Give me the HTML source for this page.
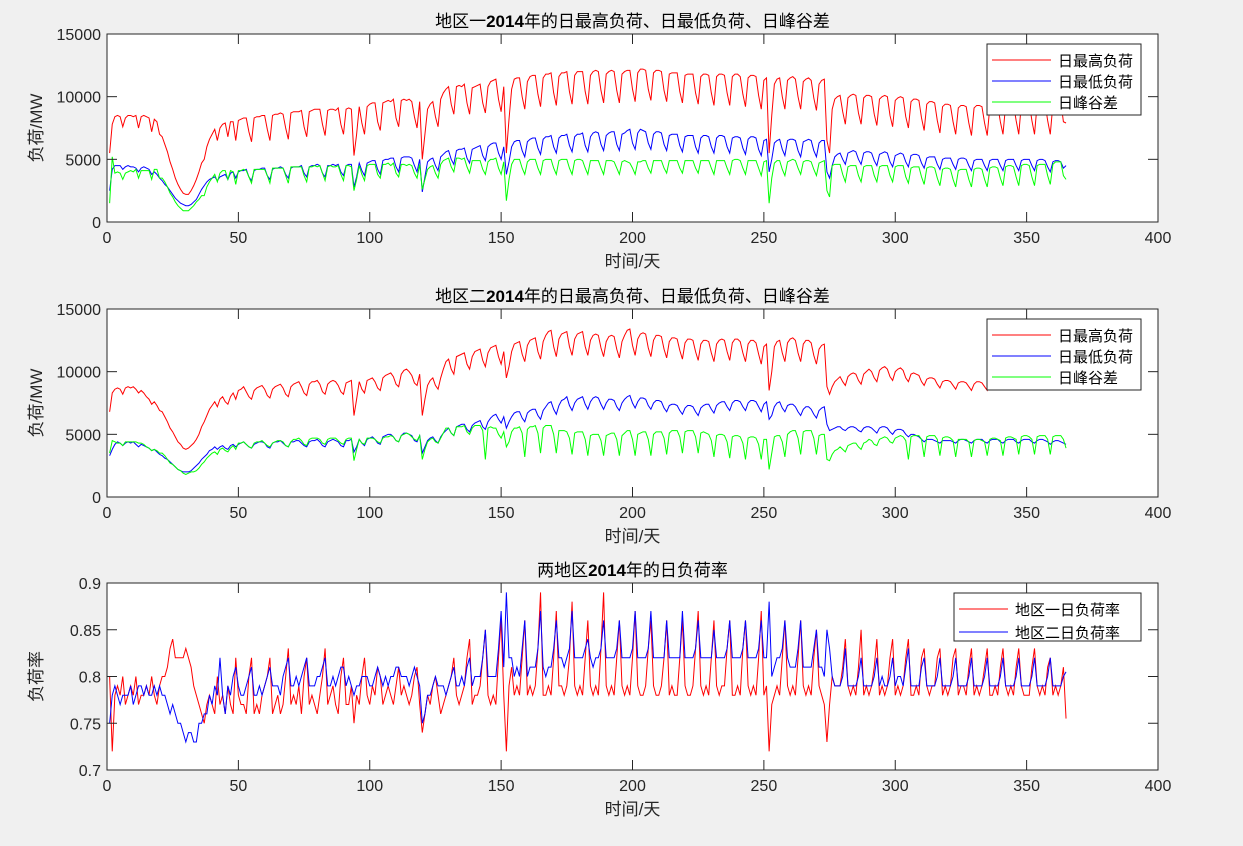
<!DOCTYPE html>
<html><head><meta charset="utf-8"><style>
html,body{margin:0;padding:0;background:#f0f0f0;}
svg{display:block;font-family:"Liberation Sans","Noto Sans CJK SC",sans-serif;}
</style></head><body>
<svg id="fig" width="1243" height="846" viewBox="0 0 1243 846" xmlns="http://www.w3.org/2000/svg"></svg>
<script>
// Values in thousands of MW (load) and in percent (load rate), day 1..365
const days = Array.from({length:365},(_,i)=>i+1);
const r1Max=[5.5,7.8,8.4,8.5,8.4,7.6,8.3, 8.5,8.5,8.4,8.5,7.5,8.4,8.5, 8.4,8.3,7.2,8.2,8.0,7.0,6.8, 6.2,5.6,4.8,4.2,3.5,3.0,2.6, 2.3,2.2,2.2,2.5,2.9,3.4,4.0, 4.7,5.0,6.0,6.6,7.0,7.4,6.5, 7.5,7.8,7.9,6.8,8.0,8.0,6.5, 8.1,8.2,8.3,8.3,7.2,6.4,8.3, 8.4,8.4,8.5,8.5,7.4,6.5,8.5, 8.6,8.6,8.7,8.6,7.5,6.6,8.7, 8.8,8.8,8.8,8.9,7.6,6.8,8.8, 8.9,9.0,9.0,9.0,7.8,6.9,8.9, 9.0,9.0,8.9,9.1,7.8,7.0,9.0, 9.1,9.0,5.3,7.0,9.2,7.9,7.0, 9.2,9.4,9.5,9.5,8.0,7.3,9.5, 9.6,9.7,9.6,9.8,8.3,7.6,9.7, 9.8,9.7,9.8,9.6,8.4,7.5,9.6, 5.0,7.0,9.0,9.4,9.6,8.4,7.6, 9.8,10.3,10.6,10.8,9.4,8.6,10.8, 10.9,10.8,11.0,9.5,8.6,10.7,10.8, 10.9,11.0,9.5,8.7,10.8,11.2,11.3, 11.4,9.8,8.8,10.8,5.5,8.2,10.6, 11.4,11.5,11.5,10.0,9.0,11.2,11.6, 11.7,11.7,10.2,9.2,11.5,11.8,11.8, 11.9,10.3,9.3,11.6,11.9,11.9,12.0, 10.4,9.4,11.7,12.0,12.0,12.0,10.4, 9.4,11.7,12.0,12.1,12.0,10.5,9.5, 11.8,12.0,12.1,12.0,10.5,9.5,11.8, 12.0,12.1,12.1,10.6,9.6,11.9,12.2, 12.2,12.1,10.6,9.7,11.9,12.1,12.1, 12.0,10.5,9.6,11.8,11.9,11.9,11.9, 10.4,9.5,11.7,11.8,11.8,11.8,10.3, 9.4,11.6,11.8,11.8,11.7,10.3,9.3, 11.6,11.8,11.8,11.7,10.3,9.3,11.6, 11.8,11.8,11.6,10.2,9.2,11.5,11.7, 11.7,11.6,10.1,9.0,11.3,11.5,5.5, 8.5,11.0,11.4,11.5,10.0,9.0,11.3, 11.5,11.6,11.4,10.0,9.0,11.2,11.4, 11.5,11.3,9.9,8.9,11.0,11.3,11.4, 6.5,5.5,9.0,9.8,10.0,10.1,8.8, 7.8,9.9,10.1,10.2,10.1,8.7,7.8, 9.9,10.1,10.1,10.0,8.6,7.7,9.8, 10.0,10.1,10.0,8.5,7.6,9.7,9.9, 10.0,9.9,8.4,7.5,9.6,9.8,9.8, 9.7,8.3,7.3,9.4,9.6,9.6,9.5, 8.1,7.1,9.2,9.4,9.4,9.3,8.0, 7.0,9.1,9.3,9.3,9.2,7.9,6.9, 9.1,9.3,9.3,9.2,7.9,6.9,9.2, 9.4,9.4,9.3,8.0,7.0,9.3,9.5, 9.5,9.4,8.1,7.0,9.4,9.6,9.6, 9.5,8.1,7.0,9.4,9.6,9.6,9.5, 8.1,7.0,9.4,9.7,9.7,9.6,8.0, 7.9];
const r1Min=[2.5,4.2,4.5,4.5,4.5,4.2,4.4, 4.5,4.4,4.4,4.3,4.0,4.3,4.4, 4.3,4.2,3.8,4.0,3.8,3.5,3.3, 3.0,2.8,2.5,2.2,1.9,1.7,1.5, 1.4,1.3,1.3,1.4,1.6,1.8,2.2, 2.6,2.9,3.2,3.4,3.5,3.6,3.3, 3.6,3.7,3.8,3.4,3.9,4.0,3.5, 4.0,4.1,4.1,4.2,3.6,3.3,4.1, 4.2,4.2,4.3,4.3,3.7,3.4,4.2, 4.3,4.3,4.4,4.3,3.8,3.5,4.3, 4.4,4.4,4.4,4.5,3.9,3.6,4.4, 4.5,4.5,4.6,4.5,3.9,3.6,4.5, 4.5,4.6,4.5,4.6,4.0,3.7,4.5, 4.6,4.6,2.8,3.6,4.7,4.1,3.7, 4.7,4.8,4.9,4.9,4.2,3.8,4.9, 5.0,5.0,5.1,5.1,4.4,4.0,5.1, 5.2,5.2,5.2,5.1,4.5,4.0,5.0, 2.4,3.6,4.8,5.0,5.1,4.5,4.1, 5.2,5.4,5.6,5.7,5.0,4.6,5.7, 5.8,5.8,5.9,5.1,4.7,5.8,5.9, 6.0,6.1,5.3,4.9,6.0,6.2,6.3, 6.3,5.5,5.0,6.0,3.8,4.8,6.0, 6.4,6.5,6.5,5.7,5.2,6.4,6.6, 6.7,6.7,5.9,5.4,6.6,6.8,6.8, 6.9,6.0,5.5,6.7,6.9,6.9,7.0, 6.1,5.6,6.8,7.0,7.0,7.1,6.1, 5.6,6.8,7.1,7.2,7.1,6.2,5.7, 6.9,7.1,7.2,7.2,6.2,5.7,7.0, 7.1,7.3,7.4,6.3,5.8,7.1,7.4, 7.3,7.2,6.3,5.8,7.0,7.2,7.2, 7.1,6.2,5.7,6.9,7.0,7.0,7.0, 6.1,5.6,6.8,6.9,6.9,6.9,6.0, 5.5,6.7,6.9,6.9,6.8,6.0,5.5, 6.7,6.9,6.9,6.8,6.0,5.5,6.7, 6.8,6.8,6.7,5.9,5.4,6.6,6.8, 6.8,6.7,5.8,5.3,6.5,6.6,4.0, 5.0,6.3,6.5,6.6,5.8,5.3,6.5, 6.6,6.6,6.5,5.7,5.2,6.4,6.5, 6.6,6.5,5.7,5.2,6.3,6.5,6.5, 4.0,3.5,4.5,5.2,5.4,5.5,5.0, 4.6,5.5,5.6,5.7,5.6,5.0,4.6, 5.5,5.6,5.6,5.5,4.9,4.5,5.4, 5.5,5.6,5.5,4.8,4.4,5.3,5.4, 5.5,5.4,4.8,4.4,5.3,5.4,5.4, 5.3,4.7,4.3,5.1,5.2,5.2,5.2, 4.6,4.2,5.0,5.1,5.1,5.1,4.6, 4.2,5.0,5.1,5.1,5.0,4.5,4.1, 4.9,5.0,5.0,5.0,4.5,4.1,4.9, 5.0,5.0,5.0,4.5,4.1,4.9,5.0, 5.0,5.0,4.5,4.1,4.9,5.0,5.0, 5.0,4.5,4.1,4.9,5.0,5.0,4.9, 4.4,4.0,4.8,4.9,4.9,4.8,4.3, 4.5];
const r1Diff=[1.5,5.2,3.9,4.0,3.9,3.4,3.9, 4.0,4.1,4.0,4.2,3.5,4.1,4.1, 4.1,4.1,3.4,4.2,4.2,3.5,3.5, 3.2,2.8,2.3,2.0,1.6,1.3,1.1, 0.9,0.9,0.9,1.1,1.3,1.6,1.8, 2.1,2.1,2.8,3.2,3.5,3.8,3.2, 3.9,4.1,4.1,3.4,4.1,4.0,3.0, 4.1,4.1,4.2,4.1,3.6,3.1,4.2, 4.2,4.2,4.2,4.2,3.7,3.1,4.3, 4.3,4.3,4.3,4.3,3.7,3.1,4.4, 4.4,4.4,4.4,4.4,3.7,3.2,4.4, 4.4,4.5,4.4,4.5,3.9,3.3,4.4, 4.5,4.4,4.4,4.5,3.8,3.3,4.5, 4.5,4.4,2.5,3.4,4.5,3.8,3.3, 4.5,4.6,4.6,4.6,3.8,3.5,4.6, 4.6,4.7,4.5,4.7,3.9,3.6,4.6, 4.6,4.5,4.6,4.5,3.9,3.5,4.6, 2.6,3.4,4.2,4.4,4.5,3.9,3.5, 4.6,4.9,5.0,5.1,4.4,4.0,5.1, 5.1,5.0,5.1,4.4,3.9,4.9,4.9, 4.9,4.9,4.2,3.8,4.8,5.0,5.0, 5.1,4.3,3.8,4.8,1.7,3.4,4.6, 5.0,5.0,5.0,4.3,3.8,4.8,5.0, 5.0,5.0,4.3,3.8,4.9,5.0,5.0, 5.0,4.3,3.8,4.9,5.0,5.0,5.0, 4.3,3.8,4.9,5.0,5.0,4.9,4.3, 3.8,4.9,4.9,4.9,4.9,4.3,3.8, 4.9,4.9,4.9,4.8,4.3,3.8,4.8, 4.9,4.8,4.7,4.3,3.8,4.8,4.8, 4.9,4.9,4.3,3.9,4.9,4.9,4.9, 4.9,4.3,3.9,4.9,4.9,4.9,4.9, 4.3,3.9,4.9,4.9,4.9,4.9,4.3, 3.9,4.9,4.9,4.9,4.9,4.3,3.8, 4.9,4.9,4.9,4.9,4.3,3.8,4.9, 5.0,5.0,4.9,4.3,3.8,4.9,4.9, 4.9,4.9,4.3,3.7,4.8,4.9,1.5, 3.5,4.7,4.9,4.9,4.2,3.7,4.8, 4.9,5.0,4.9,4.3,3.8,4.8,4.9, 4.9,4.8,4.2,3.7,4.7,4.8,4.9, 2.5,2.0,4.5,4.6,4.6,4.6,3.8, 3.2,4.4,4.5,4.5,4.5,3.7,3.2, 4.4,4.5,4.5,4.5,3.7,3.2,4.4, 4.5,4.5,4.5,3.7,3.2,4.4,4.5, 4.5,4.5,3.6,3.1,4.3,4.4,4.4, 4.4,3.6,3.0,4.3,4.4,4.4,4.3, 3.5,2.9,4.2,4.3,4.3,4.2,3.4, 2.8,4.1,4.2,4.2,4.2,3.4,2.8, 4.2,4.3,4.3,4.2,3.4,2.8,4.3, 4.4,4.4,4.3,3.5,2.9,4.4,4.5, 4.5,4.4,3.6,2.9,4.5,4.6,4.6, 4.5,3.6,2.9,4.5,4.6,4.6,4.6, 3.7,3.0,4.6,4.8,4.8,4.8,3.7, 3.4];
const r2Max=[6.8,8.3,8.6,8.7,8.6,8.2,8.7, 8.8,8.7,8.8,8.6,8.3,8.5,8.3, 8.0,7.8,7.4,7.6,7.3,6.9,6.8, 6.4,6.0,5.5,5.2,4.8,4.4,4.2, 3.9,3.8,3.9,4.1,4.3,4.6,5.0, 5.6,6.0,6.5,7.0,7.3,7.6,7.2, 7.8,8.0,7.6,7.4,8.0,8.3,7.8, 8.5,8.6,8.8,8.4,8.0,7.8,8.5, 8.7,8.8,8.9,8.6,8.1,7.9,8.6, 8.8,8.9,9.0,8.7,8.2,8.0,8.8, 9.0,9.1,9.2,8.8,8.3,8.1,9.0, 9.2,9.2,9.3,9.0,8.4,8.2,9.0, 9.2,9.3,9.2,8.9,8.4,8.2,9.1, 9.2,9.3,6.5,7.8,9.2,8.6,8.3, 9.3,9.4,9.5,9.2,8.7,8.5,9.5, 9.7,9.8,9.9,9.6,9.0,8.8,9.8, 10.1,10.2,10.0,9.7,9.1,8.9,9.8, 6.5,7.8,8.9,9.3,9.5,8.9,8.6, 9.5,10.2,10.8,11.0,10.2,9.8,11.2, 11.3,11.4,11.5,10.6,10.2,11.2,11.6, 11.7,11.8,10.9,10.4,11.5,11.9,12.0, 12.1,11.2,10.6,11.6,9.5,10.4,11.6, 12.2,12.3,12.4,11.4,10.8,12.1,12.5, 12.6,12.7,11.6,11.0,12.4,12.9,13.2, 13.3,12.0,11.2,12.6,13.0,13.1,13.2, 12.0,11.3,12.6,13.0,13.1,13.2,12.0, 11.3,12.5,12.9,13.0,12.9,11.9,11.2, 12.4,12.8,12.9,12.8,11.8,11.1,12.4, 12.9,13.3,13.4,12.1,11.3,12.6,13.0, 13.1,13.0,11.9,11.2,12.5,12.9,12.9, 12.8,11.8,11.1,12.4,12.7,12.7,12.6, 11.7,11.0,12.3,12.6,12.6,12.5,11.6, 10.9,12.2,12.5,12.5,12.4,11.5,10.8, 12.2,12.5,12.6,12.5,11.6,10.9,12.3, 12.6,12.6,12.4,11.5,10.8,12.2,12.5, 12.5,12.3,11.4,10.6,12.0,12.2,8.5, 10.0,12.0,12.4,12.5,11.5,10.8,12.3, 12.6,12.7,12.5,11.5,10.8,12.2,12.5, 12.5,12.3,11.3,10.6,11.8,12.1,12.2, 8.8,8.2,8.8,9.2,9.4,9.6,9.2, 8.9,9.6,9.8,9.9,9.8,9.3,9.0, 9.8,10.0,10.2,10.0,9.5,9.2,10.1, 10.3,10.4,10.2,9.6,9.3,10.0,10.2, 10.3,10.1,9.5,9.2,9.8,9.9,9.8, 9.7,9.2,8.9,9.4,9.5,9.5,9.4, 9.0,8.7,9.2,9.3,9.3,9.2,8.9, 8.6,9.1,9.2,9.2,9.1,8.8,8.5, 9.0,9.2,9.2,9.1,8.8,8.5,9.1, 9.3,9.3,9.2,8.9,8.6,9.2,9.4, 9.4,9.3,9.0,8.7,9.3,9.5,9.5, 9.4,9.0,8.7,9.3,9.5,9.5,9.4, 9.0,8.7,9.3,9.5,9.5,9.4,9.0, 8.8];
const r2Min=[3.3,3.8,4.2,4.4,4.3,4.1,4.3, 4.4,4.3,4.4,4.2,4.0,4.2,4.1, 4.0,3.9,3.7,3.8,3.6,3.4,3.3, 3.1,3.0,2.8,2.6,2.4,2.2,2.1, 2.0,2.0,2.0,2.1,2.3,2.5,2.7, 3.0,3.2,3.4,3.7,3.8,4.0,3.8, 4.0,4.1,3.9,3.8,4.1,4.2,4.0, 4.2,4.3,4.4,4.2,4.0,3.9,4.2, 4.3,4.4,4.4,4.3,4.0,3.9,4.3, 4.4,4.4,4.5,4.3,4.1,4.0,4.4, 4.4,4.5,4.5,4.3,4.1,4.0,4.4, 4.5,4.5,4.6,4.4,4.1,4.0,4.4, 4.5,4.6,4.5,4.4,4.1,4.0,4.5, 4.5,4.6,3.6,4.0,4.6,4.3,4.1, 4.6,4.7,4.8,4.6,4.3,4.2,4.8, 4.9,5.0,5.0,4.8,4.5,4.4,4.9, 5.1,5.1,5.0,4.9,4.5,4.4,4.9, 3.5,4.0,4.5,4.7,4.8,4.5,4.3, 4.8,5.1,5.3,5.5,5.1,4.9,5.6, 5.7,5.8,5.8,5.4,5.2,5.7,5.9, 6.0,6.1,5.6,5.4,6.0,6.3,6.5, 6.6,6.2,5.9,6.4,5.5,6.0,6.4, 6.7,6.8,6.8,6.3,6.0,6.7,6.9, 7.0,7.0,6.5,6.2,6.9,7.2,7.5, 7.6,7.0,6.6,7.3,7.7,7.8,8.0, 7.3,6.9,7.5,7.8,7.9,8.0,7.4, 7.0,7.6,7.9,8.0,7.9,7.4,7.0, 7.5,7.8,7.8,7.7,7.2,6.9,7.5, 7.8,8.0,8.1,7.5,7.1,7.6,7.9, 7.9,7.8,7.3,7.0,7.5,7.7,7.7, 7.6,7.1,6.8,7.3,7.4,7.4,7.3, 6.9,6.6,7.1,7.3,7.3,7.2,6.8, 6.5,7.1,7.3,7.4,7.4,7.0,6.7, 7.3,7.5,7.6,7.6,7.2,6.9,7.5, 7.7,7.7,7.6,7.2,6.9,7.5,7.7, 7.7,7.6,7.2,6.8,7.4,7.6,6.2, 6.5,7.2,7.5,7.6,7.1,6.8,7.3, 7.4,7.4,7.2,6.8,6.5,7.0,7.2, 7.2,7.0,6.6,6.3,6.9,7.1,7.2, 5.8,5.3,5.4,5.5,5.6,5.6,5.4, 5.3,5.5,5.6,5.6,5.5,5.3,5.2, 5.5,5.6,5.6,5.5,5.3,5.1,5.5, 5.6,5.6,5.5,5.2,5.0,5.3,5.4, 5.4,5.3,5.0,4.8,5.0,5.0,4.9, 4.8,4.6,4.4,4.6,4.6,4.6,4.5, 4.4,4.3,4.5,4.5,4.5,4.5,4.4, 4.3,4.5,4.6,4.6,4.5,4.4,4.3, 4.5,4.6,4.6,4.6,4.4,4.3,4.5, 4.6,4.6,4.6,4.4,4.3,4.5,4.6, 4.6,4.6,4.4,4.3,4.5,4.6,4.6, 4.6,4.4,4.3,4.5,4.6,4.6,4.5, 4.4,4.2,4.4,4.5,4.5,4.4,4.3, 4.2];
const r2Diff=[3.5,4.5,4.4,4.3,4.3,4.1,4.4, 4.4,4.4,4.4,4.4,4.3,4.3,4.2, 4.0,3.9,3.7,3.8,3.7,3.5,3.5, 3.3,3.0,2.7,2.6,2.4,2.2,2.1, 1.9,1.8,1.9,2.0,2.0,2.1,2.3, 2.6,2.8,3.1,3.3,3.5,3.6,3.4, 3.8,3.9,3.7,3.6,3.9,4.1,3.8, 4.3,4.3,4.4,4.2,4.0,3.9,4.3, 4.4,4.4,4.5,4.3,4.1,4.0,4.3, 4.4,4.5,4.5,4.4,4.1,4.0,4.4, 4.6,4.6,4.7,4.5,4.2,4.1,4.6, 4.7,4.7,4.7,4.6,4.3,4.2,4.6, 4.7,4.7,4.7,4.5,4.3,4.2,4.6, 4.7,4.7,2.9,3.8,4.6,4.3,4.2, 4.7,4.7,4.7,4.6,4.4,4.3,4.7, 4.8,4.8,4.9,4.8,4.5,4.4,4.9, 5.0,5.1,5.0,4.8,4.6,4.5,4.9, 3.0,3.8,4.4,4.6,4.7,4.4,4.3, 4.7,5.1,5.5,5.5,5.1,4.9,5.6, 5.6,5.6,5.7,5.2,5.0,5.5,5.7, 5.7,5.7,5.3,3.0,5.5,5.6,5.5, 5.5,5.0,4.7,5.2,4.0,4.4,5.2, 5.5,5.5,5.6,5.1,3.2,5.4,5.6, 5.6,5.7,5.1,3.5,5.5,5.7,5.7, 5.7,5.0,3.5,5.3,5.3,5.3,5.2, 4.7,3.4,5.1,5.2,5.2,5.2,4.6, 3.3,4.9,5.0,5.0,5.0,4.5,3.3, 4.9,5.0,5.1,5.1,4.6,3.3,4.9, 5.1,5.3,5.3,4.6,3.3,5.0,5.1, 5.2,5.2,4.6,3.3,5.0,5.2,5.2, 5.2,4.7,3.4,5.1,5.3,5.3,5.3, 4.8,3.5,5.2,5.3,5.3,5.3,4.8, 3.5,5.1,5.2,5.1,5.0,4.5,3.2, 4.9,5.0,5.0,4.9,4.4,3.1,4.8, 4.9,4.9,4.8,4.3,3.0,4.7,4.8, 4.8,4.7,4.2,3.0,4.6,4.6,2.2, 3.5,4.8,4.9,4.9,4.4,3.2,5.0, 5.2,5.3,5.3,4.7,3.4,5.2,5.3, 5.3,5.3,4.7,3.4,4.9,5.0,5.0, 3.0,2.9,3.4,3.7,3.8,4.0,3.8, 3.6,4.1,4.2,4.3,4.3,4.0,3.8, 4.3,4.4,4.6,4.5,4.2,4.1,4.6, 4.7,4.8,4.7,4.4,4.3,4.7,4.8, 4.9,4.8,4.5,3.0,4.8,4.9,4.9, 4.9,4.6,3.2,4.8,4.9,4.9,4.9, 4.6,3.3,4.7,4.8,4.8,4.7,4.5, 3.2,4.6,4.6,4.6,4.6,4.4,3.2, 4.5,4.6,4.6,4.5,4.4,3.3,4.6, 4.7,4.7,4.6,4.5,3.3,4.7,4.8, 4.8,4.7,4.6,3.4,4.8,4.9,4.9, 4.8,4.6,3.4,4.8,4.9,4.9,4.9, 4.6,3.4,4.8,4.9,4.9,4.9,4.6, 3.9];
const r1Rate=[80,72,78,79,78,80,77, 78,79,78,80,77,78,78, 79,78,80,78,77,79,80, 80,81,83,84,82,82,82, 82,83,82,81,79,78,77, 76,75,77,78,77,76,80, 77,78,76,79,77,76,82, 78,77,77,76,80,82,76, 77,76,78,79,80,82,76, 77,78,76,77,80,83,77, 78,77,79,76,80,82,77, 78,77,76,78,80,83,77, 78,79,77,76,80,82,77, 77,79,75,78,77,80,82, 78,77,79,78,81,80,77, 78,79,78,77,79,81,78, 79,78,77,78,80,81,77, 74,76,78,77,79,80,78, 76,77,78,79,80,82,78, 77,78,79,82,84,77,78, 78,79,82,85,78,77,78, 77,82,86,78,72,79,81, 78,79,78,82,86,78,79, 78,79,83,89,78,78,79, 78,82,87,79,79,78,79, 82,88,79,78,79,78,82, 86,79,78,79,78,83,89, 79,78,79,78,82,86,79, 78,79,78,82,87,79,78, 78,79,83,86,79,78,78, 79,82,86,78,79,78,78, 82,86,79,78,78,79,83, 87,79,78,79,78,82,86, 79,78,79,79,83,86,78, 78,79,78,83,86,79,78, 79,78,82,87,78,79,72, 77,78,79,78,82,86,79, 78,79,78,82,86,79,78, 79,78,82,85,79,78,77, 73,77,80,79,79,79,81, 84,79,78,79,78,81,85, 78,79,78,79,81,84,78, 79,78,79,82,84,78,79, 78,79,82,84,78,78,79, 78,82,83,79,78,79,79, 82,83,78,79,78,79,82, 83,78,79,79,78,81,83, 78,79,78,79,81,83,78, 78,79,78,81,83,79,78, 79,78,81,83,79,78,78, 78,81,83,79,78,79,78, 81,82,78,79,78,79,81, 75.5];
const r2Rate=[75,78,79,78,77,78,78, 78,79,77,78,79,79,78, 79,78,78,79,78,79,78, 78,77,76,77,76,75,75, 74,73,74,74,73,73,75, 75,76,76,78,77,79,78, 82,78,76,79,78,80,81, 79,78,78,79,80,81,78, 78,79,78,79,80,81,79, 79,79,78,80,81,82,79, 79,80,79,80,81,82,79, 79,79,80,80,81,82,79, 79,80,79,80,81,81,79, 80,79,78,79,79,80,80, 80,79,79,80,81,80,79, 80,79,80,80,81,81,80, 80,80,79,80,81,80,79, 75,76,78,78,79,80,79, 79,79,78,79,80,81,79, 79,80,79,81,82,79,80, 80,80,82,85,80,80,80, 80,83,87,81,89,82,82, 80,81,80,83,86,80,81, 81,81,83,87,81,80,81, 81,83,86,82,82,81,82, 83,87,82,82,82,82,83, 84,82,81,82,82,83,86, 82,82,82,82,83,86,82, 82,82,82,83,87,82,82, 82,82,83,87,82,82,82, 82,82,86,82,82,82,82, 82,87,82,82,82,82,83, 86,82,82,82,82,82,85, 82,82,82,82,83,86,82, 82,82,82,83,86,82,82, 82,82,83,86,82,82,88, 80,81,82,82,83,86,82, 81,81,81,83,86,81,81, 81,81,83,85,81,81,80, 85,83,80,79,79,79,80, 83,79,79,79,79,80,82, 79,79,79,79,80,82,79, 80,79,79,80,82,79,80, 80,79,81,83,79,79,79, 79,81,82,79,79,79,79, 80,82,79,79,79,79,80, 82,79,79,79,79,80,82, 79,79,79,79,80,82,79, 79,79,79,80,82,79,79, 79,79,80,82,79,79,79, 79,80,82,79,79,79,79, 80,82,79,79,79,79,80, 80.5];
const xTicks=[0,50,100,150,200,250,300,350,400];
const loadTicks=[0,5000,10000,15000];
const rateTicks=[0.7,0.75,0.8,0.85,0.9];

const NS='http://www.w3.org/2000/svg';
const svg=document.getElementById('fig');
function mk(tag,attrs,parent){const e=document.createElementNS(NS,tag);for(const k in attrs)e.setAttribute(k,attrs[k]);(parent||svg).appendChild(e);return e;}
const X0=107,X1=1158;
const xs=d=>X0+(d-0)/400*(X1-X0);

function panel(key,top,bot,ymin,ymax,yt,ytLabel,title,ylabel,series,legend){
  const g=mk('g',{});
  
  
  const ys=v=>bot-(v-ymin)/(ymax-ymin)*(bot-top);
  const bg=mk('rect',{x:X0,y:top,width:X1-X0,height:bot-top,fill:'#fff'},g);
  
  
  const lines=mk('g',{},g);
  
  
  series.forEach(s=>{
    const pts=s.vals.map((v,i)=>xs(days[i]).toFixed(2)+','+ys(v*s.scale).toFixed(2)).join(' ');
    const p=mk('polyline',{points:pts,fill:'none',stroke:s.color,'stroke-width':1},lines);
    
    
  });
  mk('rect',{x:X0,y:top,width:X1-X0,height:bot-top,fill:'none',stroke:'#262626','stroke-width':1},g);
  xTicks.forEach(t=>{
    const x=xs(t);
    mk('line',{x1:x,x2:x,y1:bot,y2:bot-10,stroke:'#262626'},g);
    mk('line',{x1:x,x2:x,y1:top,y2:top+10,stroke:'#262626'},g);
    const tx=mk('text',{x:x,y:bot+21,'text-anchor':'middle','font-size':16,fill:'#262626'},g);
    tx.textContent=t;
    
    
  });
  yt.forEach((t,i)=>{
    const y=ys(t);
    mk('line',{x1:X0,x2:X0+10,y1:y,y2:y,stroke:'#262626'},g);
    mk('line',{x1:X1,x2:X1-10,y1:y,y2:y,stroke:'#262626'},g);
    const tx=mk('text',{x:X0-6,y:y+6,'text-anchor':'end','font-size':16,fill:'#262626'},g);
    tx.textContent=ytLabel[i];
    
    
  });
  const ti=mk('text',{x:(X0+X1)/2,y:top-7,'text-anchor':'middle','font-size':17,fill:'#000'},g);
  title.forEach(([txt,b])=>{const s=mk('tspan',b?{'font-weight':'bold'}:{},ti);s.textContent=txt;});
  
  
  const xl=mk('text',{x:(X0+X1)/2,y:bot+45,'text-anchor':'middle','font-size':17,fill:'#262626'},g);
  xl.textContent='时间/天';
  
  
  const cy=(top+bot)/2;
  const yl=mk('text',{x:42,y:cy,'text-anchor':'middle','font-size':17,fill:'#262626',transform:`rotate(-90 42 ${cy})`},g);
  yl.textContent=ylabel;
  
  
  const L=mk('g',{},g);
  
  
  mk('rect',{x:legend.x,y:legend.y,width:legend.w,height:legend.h,fill:'#fff',stroke:'#262626'},L);
  legend.items.forEach((it,i)=>{
    const y=legend.y+16+i*legend.step;
    const e=mk('g',{},L);
    
    
    mk('line',{x1:legend.x+5,x2:legend.x+legend.lw,y1:y,y2:y,stroke:it[1],'stroke-width':1},e);
    const t=mk('text',{x:legend.x+legend.lw+7,y:y+6,'font-size':15,fill:'#000'},e);
    t.textContent=it[0];
  });
}
const loadLbl=loadTicks.map(String);
panel('region1',34,222,0,15000,loadTicks,loadLbl,[['地区一',0],['2014',1],['年的日最高负荷、日最低负荷、日峰谷差',0]],'负荷/MW',
  [{vals:r1Max,scale:1000,color:'#ff0000',name:'region1-daily-max-line'},{vals:r1Min,scale:1000,color:'#0000ff',name:'region1-daily-min-line'},{vals:r1Diff,scale:1000,color:'#00ff00',name:'region1-peak-valley-line'}],
  {x:987,y:44,w:154,h:71,lw:64,step:21,items:[['日最高负荷','#ff0000'],['日最低负荷','#0000ff'],['日峰谷差','#00ff00']]});
panel('region2',309,497,0,15000,loadTicks,loadLbl,[['地区二',0],['2014',1],['年的日最高负荷、日最低负荷、日峰谷差',0]],'负荷/MW',
  [{vals:r2Max,scale:1000,color:'#ff0000',name:'region2-daily-max-line'},{vals:r2Min,scale:1000,color:'#0000ff',name:'region2-daily-min-line'},{vals:r2Diff,scale:1000,color:'#00ff00',name:'region2-peak-valley-line'}],
  {x:987,y:319,w:154,h:71,lw:64,step:21,items:[['日最高负荷','#ff0000'],['日最低负荷','#0000ff'],['日峰谷差','#00ff00']]});
panel('rate',583,770,0.7,0.9,rateTicks,['0.7','0.75','0.8','0.85','0.9'],[['两地区',0],['2014',1],['年的日负荷率',0]],'负荷率',
  [{vals:r1Rate,scale:0.01,color:'#ff0000',name:'region1-load-rate-line'},{vals:r2Rate,scale:0.01,color:'#0000ff',name:'region2-load-rate-line'}],
  {x:954,y:593,w:187,h:48,lw:54,step:23,items:[['地区一日负荷率','#ff0000'],['地区二日负荷率','#0000ff']]});
</script>
</body></html>
